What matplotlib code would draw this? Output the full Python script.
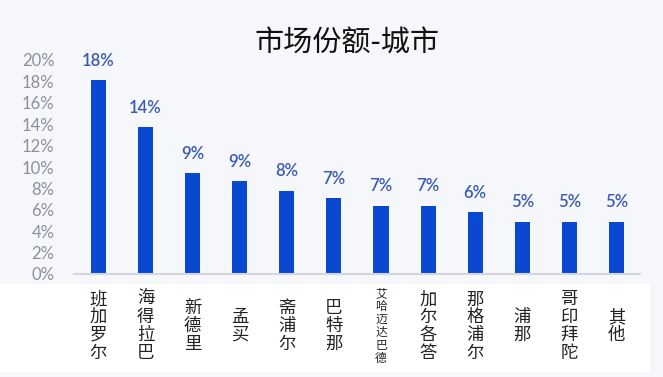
import matplotlib
matplotlib.use('Agg')
import matplotlib.pyplot as plt
from matplotlib.patches import Rectangle
import matplotlib.transforms as mtransforms

# data
cities = ['班加罗尔', '海得拉巴', '新德里', '孟买', '斋浦尔', '巴特那',
          '艾哈迈达巴德', '加尔各答', '那格浦尔', '浦那', '哥印拜陀', '其他']
share = [18.1, 13.7, 9.4, 8.7, 7.8, 7.1, 6.4, 6.4, 5.75, 4.9, 4.9, 4.9]
share_labels = ['18%', '14%', '9%', '9%', '8%', '7%', '7%', '7%', '6%', '5%', '5%', '5%']
yticks = [0, 2, 4, 6, 8, 10, 12, 14, 16, 18, 20]

plt.rcParams['font.family'] = ['Noto Sans CJK SC', 'DejaVu Sans']

bg = '#f6f7fb'
fig = plt.figure(figsize=(6.63, 3.77), dpi=100, facecolor=bg)
W, H = 663, 377

# white band behind the category labels
fig.patches.append(Rectangle((0, (H - 372) / H), 650 / W, 88 / H,
                             transform=fig.transFigure, facecolor='white',
                             edgecolor='none', zorder=-5))

ax = fig.add_axes([74 / W, (H - 274) / H, 566 / W, 214 / H])
ax.set_facecolor('none')
x = list(range(len(cities)))
ax.bar(x, share, width=0.32, color='#0a48d2', zorder=2)
ax.set_xlim(-0.52, 11.5)
ax.set_ylim(0, 20)

ax.set_yticks(yticks)
ax.set_yticklabels([f'{v}%' for v in yticks], family='Lato', fontsize=12,
                   color='#8c909c')
ax.tick_params(axis='y', length=0, pad=14)
ax.set_xticks([])
for s in ['top', 'right', 'left']:
    ax.spines[s].set_visible(False)
ax.spines['bottom'].set_color('#d3d6de')
ax.spines['bottom'].set_linewidth(1.5)

for xi, v, lab in zip(x, share, share_labels):
    ax.annotate(lab, (xi, v), xytext=(0, 8), textcoords='offset points',
                ha='center', va='bottom', fontsize=12, family='Lato',
                fontweight='semibold', color='#3a5bb3')

# vertical category labels
trans = mtransforms.blended_transform_factory(ax.transData, fig.transFigure)
for xi, name in zip(x, cities):
    fs = 8.5 if len(name) > 4 else 12.5
    ax.text(xi, (H - 326) / H, '\n'.join(name), transform=trans,
            ha='center', va='center', fontsize=fs, linespacing=0.98,
            fontweight='light', color='#222222', zorder=5)

fig.text(347 / W, (H - 44) / H, '市场份额-城市', ha='center', va='center',
         fontsize=21, fontweight='light', color='#111111')

fig.savefig('out.png', dpi=100, facecolor=bg)
